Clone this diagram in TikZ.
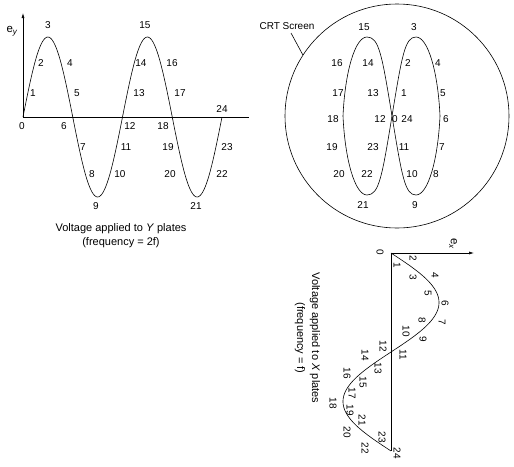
\documentclass[tikz,border=0pt]{standalone}
\usepackage{fontspec}
\setmainfont{Liberation Sans}
\usetikzlibrary{arrows.meta}
\begin{document}
\begin{tikzpicture}[x=1pt,y=-1pt,
  lbl/.style={font=\fontsize{10}{12}\selectfont, inner sep=0pt},
  rl/.style={lbl, rotate=-90},
  axlbl/.style={font=\fontsize{11.5}{13}\selectfont, inner sep=0pt},
  captxt/.style={font=\fontsize{11}{13}\selectfont, inner sep=0pt},
  curve/.style={line width=0.6pt},
  arr/.style={curve,-{Latex[length=5pt,width=3pt]}}]
\useasboundingbox (0,0) rectangle (514,466);

% ---------------- Y plates graph ----------------
\coordinate (yo) at (23,117);
\coordinate (ytop) at (23,13);
\coordinate (yend) at (249,117);
\draw[arr] (yo) -- (ytop);
\draw[curve] (yo) -- (yend);
\draw[curve] plot[domain=0:24,samples=145,smooth] ({23+199*\x/24},{117-80*sin(30*\x)});
\node[axlbl] (ey) at (12,31) {e\textsubscript{\itshape y}};
\foreach \n/\px/\py in {3/48/25, 2/41/63, 4/70/63, 1/33/93, 5/77/93, 0/22/126, 6/64/126,
  7/83/147, 8/92/174, 9/96/206, 10/120/174, 11/126/147, 12/130/126, 13/139/93,
  14/141/63, 15/145/25, 16/172/63, 17/180/93, 18/163/126, 19/168/147, 20/170/174,
  21/196/206, 22/222/174, 23/227/147, 24/222/109}
  \node[lbl] (y\n) at (\px,\py) {\n};
\node[captxt] (ycap1) at (121,229) {Voltage applied to \textit{Y} plates};
\node[captxt] (ycap2) at (121,243) {(frequency = 2f)};

% ---------------- CRT screen ----------------
\node[draw, circle, curve, minimum size=224pt, inner sep=0pt] (screen) at (397,116) {};
\node[lbl] (crt) at (287,26) {CRT Screen};
\coordinate (lead) at (291,33);
\draw[curve] (lead) -- (screen.147);
\draw[curve] (392,116) .. controls (402,55) and (405,37) .. (416,37)
  .. controls (428,37) and (438,72) .. (440,116)
  .. controls (438,160) and (428,195) .. (416,195)
  .. controls (405,195) and (402,177) .. (392,116);
\draw[curve] (392,116) .. controls (382,55) and (379,37) .. (367,37)
  .. controls (355,37) and (345,72) .. (343,116)
  .. controls (345,160) and (355,195) .. (367,195)
  .. controls (379,195) and (382,177) .. (392,116);
\foreach \n/\px/\py in {15/364/27, 3/414/27, 16/337/63, 14/368/63, 2/408/63, 4/438/63,
  17/338/93, 13/373/93, 1/404/93, 5/443/93, 18/333/119, 12/380/119, 0/395/119,
  24/407/119, 6/446/119, 19/332/147, 23/373/147, 11/404/147, 7/442/147,
  20/339/174, 22/367/174, 10/412/174, 8/436/174, 21/363/205, 9/415/205}
  \node[lbl] (s\n) at (\px,\py) {\n};

% ---------------- X plates graph ----------------
\coordinate (xo) at (391,253);
\coordinate (xend) at (474,253);
\coordinate (xbot) at (391,451);
\draw[arr] (xo) -- (xend);
\draw[curve] (xo) -- (xbot);
\draw[curve] plot[domain=0:24,samples=145,smooth] ({391+48*sin(15*\x)},{253+198*\x/24});
\node[axlbl, rotate=-90] (ex) at (453,244) {e\textsubscript{\itshape x}};
\foreach \n/\px/\py in {0/380/252, 2/413/258, 1/397/265, 4/435/275, 3/413/277,
  5/428/293, 6/445/303, 7/442/322, 8/422/320, 10/406/331, 9/423/339, 12/383/346,
  11/403/355, 14/365/355, 13/378/368, 16/347/373, 15/363/382, 17/352/393,
  18/333/403, 19/350/410, 21/362/420, 20/347/432, 23/382/437, 22/365/448, 24/397/453}
  \node[rl] (x\n) at (\px,\py) {\n};
\node[captxt, rotate=-90] (xcap1) at (315,338) {Voltage applied to \textit{X} plates};
\node[captxt, rotate=-90] (xcap2) at (300,338) {(frequency = f)};
\end{tikzpicture}
\end{document}
